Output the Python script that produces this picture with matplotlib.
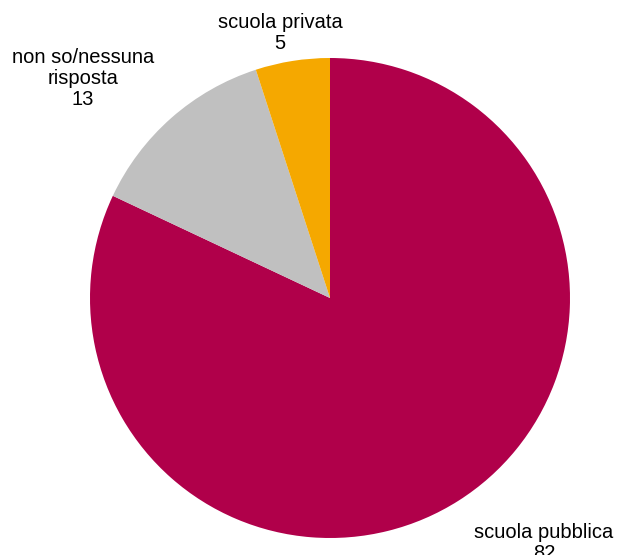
import matplotlib
matplotlib.use('Agg')
import matplotlib.pyplot as plt

# dati
etichette = ["scuola pubblica", "non so/nessuna\nrisposta", "scuola privata"]
valori = [82, 13, 5]
colori = ["#B0004A", "#C0C0C0", "#F5A800"]

plt.rcParams['font.family'] = ['Liberation Sans', 'DejaVu Sans']

fig = plt.figure(figsize=(6.17, 5.55), dpi=100)
ax = fig.add_axes([90 / 617, 17 / 555, 480 / 617, 480 / 555])
ax.pie(valori, colors=colori, startangle=90, counterclock=False,
       wedgeprops=dict(linewidth=0))
ax.set_xlim(-1, 1)
ax.set_ylim(-1, 1)
ax.set_aspect('equal')
ax.axis('off')

# posizioni etichette (coordinate dati)
pos = [(0.892, -1.02), (-1.029, 0.915), (-0.208, 1.105)]
for lab, v, (x, y) in zip(etichette, valori, pos):
    ax.text(x, y, f"{lab}\n{v}", ha='center', va='center', fontsize=14.5,
            linespacing=1.12, color='#000000', clip_on=False)

plt.savefig("out.png", dpi=100)
plt.close()
